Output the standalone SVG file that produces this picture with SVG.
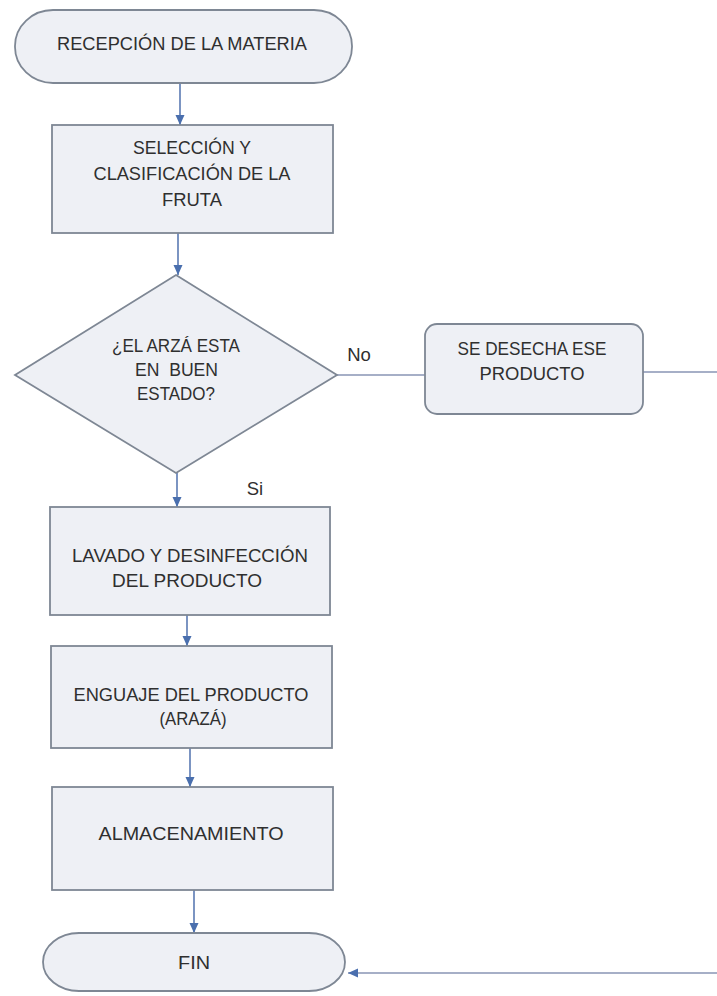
<svg xmlns="http://www.w3.org/2000/svg" width="717" height="996" viewBox="0 0 717 996">
<defs>
<style>
.shape{fill:#eef0f5;stroke:#7e8794;stroke-width:1.8}
.t{font-family:"Liberation Sans",Arial,sans-serif;font-size:18.5px;fill:#2f2f2f;text-anchor:middle}
.c{stroke:#5b7ab3;stroke-width:1.6;fill:none}
.cg{stroke:#8894b4;stroke-width:1.4;fill:none}
</style>
<marker id="ah" markerUnits="userSpaceOnUse" markerWidth="12" markerHeight="12" viewBox="0 0 12 12" refX="10" refY="6" orient="auto">
<path d="M0,1.5 L10,6 L0,10.5 Z" fill="#4a6fae"/>
</marker>
</defs>
<rect width="717" height="996" fill="#ffffff"/>
<g id="connectors">
<line class="c" x1="180" y1="83" x2="180" y2="125" marker-end="url(#ah)"/>
<line class="c" x1="178" y1="233" x2="178" y2="275" marker-end="url(#ah)"/>
<line class="c" x1="177" y1="455" x2="177" y2="507" marker-end="url(#ah)"/>
<line class="cg" x1="337" y1="375" x2="425" y2="375"/>
<line class="c" x1="187" y1="603" x2="187" y2="646" marker-end="url(#ah)"/>
<line class="c" x1="190" y1="748" x2="190" y2="787" marker-end="url(#ah)"/>
<line class="c" x1="194" y1="890" x2="194" y2="933" marker-end="url(#ah)"/>
<line class="cg" x1="643" y1="372" x2="717" y2="372"/>
<line class="cg" x1="717" y1="973" x2="348" y2="973" marker-end="url(#ah)"/>
<text class="t" x="359" y="361" font-size="16.5">No</text>
<text class="t" x="255" y="495" font-size="16.5">Si</text>
</g>
<g id="inicio">
<rect class="shape" x="15" y="10" width="337" height="73" rx="38" ry="36"/>
<text class="t" x="182" y="49.5" textLength="250" lengthAdjust="spacingAndGlyphs">RECEPCIÓN DE LA MATERIA</text>
</g>
<g id="seleccion">
<rect class="shape" x="52" y="125" width="281" height="108"/>
<text class="t" x="192" y="153.5" textLength="118" lengthAdjust="spacingAndGlyphs">SELECCIÓN Y</text>
<text class="t" x="192" y="179.5" textLength="197" lengthAdjust="spacingAndGlyphs">CLASIFICACIÓN DE LA</text>
<text class="t" x="192" y="205.5" textLength="60" lengthAdjust="spacingAndGlyphs">FRUTA</text>
</g>
<g id="decision">
<polygon class="shape" points="176,275 337,375 176,473 15,375"/>
<text class="t" x="176" y="351.5" textLength="128" lengthAdjust="spacingAndGlyphs">¿EL ARZÁ ESTA</text>
<text class="t" x="176.5" y="376" textLength="83" lengthAdjust="spacingAndGlyphs" xml:space="preserve">EN  BUEN</text>
<text class="t" x="176" y="399.5" textLength="78" lengthAdjust="spacingAndGlyphs">ESTADO?</text>
</g>
<g id="desecha">
<rect class="shape" x="425" y="324" width="218" height="90" rx="12"/>
<text class="t" x="532" y="354.5" textLength="149" lengthAdjust="spacingAndGlyphs">SE DESECHA ESE</text>
<text class="t" x="532" y="379.5" textLength="105" lengthAdjust="spacingAndGlyphs">PRODUCTO</text>
</g>
<g id="lavado">
<rect class="shape" x="50" y="507" width="280" height="108"/>
<text class="t" x="190" y="561.5" textLength="236" lengthAdjust="spacingAndGlyphs">LAVADO Y DESINFECCIÓN</text>
<text class="t" x="187" y="586.5" textLength="150" lengthAdjust="spacingAndGlyphs">DEL PRODUCTO</text>
</g>
<g id="enguaje">
<rect class="shape" x="51" y="646" width="281" height="102"/>
<text class="t" x="191" y="700.5" textLength="235" lengthAdjust="spacingAndGlyphs">ENGUAJE DEL PRODUCTO</text>
<text class="t" x="193" y="724.5" textLength="67" lengthAdjust="spacingAndGlyphs">(ARAZÁ)</text>
</g>
<g id="almacenamiento">
<rect class="shape" x="52" y="787" width="281" height="103"/>
<text class="t" x="191" y="839.5" textLength="185" lengthAdjust="spacingAndGlyphs">ALMACENAMIENTO</text>
</g>
<g id="fin">
<rect class="shape" x="43" y="933" width="302" height="58" rx="36" ry="29"/>
<text class="t" x="194" y="968.5" textLength="32" lengthAdjust="spacingAndGlyphs">FIN</text>
</g>
</svg>
